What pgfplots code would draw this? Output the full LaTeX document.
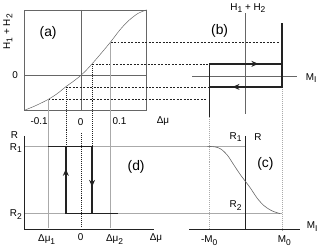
\documentclass[border=0pt]{standalone}
\usepackage{fontspec}
\setmainfont{Liberation Sans}
\usepackage{pgfplots}
\pgfplotsset{compat=1.18}
\usetikzlibrary{arrows.meta}
\newcommand{\sub}[1]{\raisebox{-0.45ex}{\fontsize{8.5}{9}\selectfont #1}}
\definecolor{dk}{HTML}{222222}
\definecolor{md}{HTML}{666666}
\definecolor{lt}{HTML}{AAAAAA}
\begin{document}
\begin{tikzpicture}
\begin{axis}[
  scale only axis, width=321bp, height=248bp,
  xmin=0, xmax=321, ymin=0, ymax=248, y dir=reverse,
  hide axis, clip=false,
  every node/.style={font=\fontsize{11.8}{13}\selectfont, text=dk, inner sep=0pt},
]
\path (axis cs:0,0) rectangle (axis cs:321,248);
% ---------- panel (a)
\addplot[md, line width=0.7pt] coordinates {(22.7,9)(145.7,9)(145.7,110.5)(22.7,110.5)(22.7,9)};
\addplot[md, line width=0.5pt] coordinates {(79.3,9)(79.3,110.5)};
\addplot[md, line width=0.5pt] coordinates {(22.7,75)(145.7,75)};
\addplot[md, line width=0.5pt, smooth] coordinates {(22.7,110)(34,105.3)(46.7,99)(56,93)(64.3,86.3)(72,80.8)(79.3,75)(85,69.5)(90.7,63.3)(100,52.5)(109.3,41.3)(118,30)(126.7,20.5)(136.7,12.7)(145.7,9)};
% dashed horizontals
\addplot[dk, line width=0.5pt, dash pattern=on 2pt off 1.5pt] coordinates {(109.3,41.3)(279,41.3)};
\addplot[dk, line width=0.5pt, dash pattern=on 2pt off 1.5pt] coordinates {(90.7,63.3)(208.7,63.3)};
\addplot[dk, line width=0.5pt, dash pattern=on 2pt off 1.5pt] coordinates {(64.3,86.5)(208.7,86.5)};
\addplot[dk, line width=0.5pt, dash pattern=on 2pt off 1.5pt] coordinates {(46.7,99)(205,99)};
% vertical guides
\addplot[lt, line width=0.6pt] coordinates {(46.7,99)(46.7,228)};
\addplot[lt, line width=0.6pt] coordinates {(109.3,41.3)(109.3,228)};
\addplot[dk, line width=0.5pt, dash pattern=on 1pt off 1pt] coordinates {(64.3,86.5)(64.3,146.3)};
\addplot[dk, line width=0.5pt, dash pattern=on 1pt off 1pt] coordinates {(90.7,63.3)(90.7,146.3)};
\addplot[dk, line width=0.5pt, dash pattern=on 1pt off 1pt] coordinates {(79.3,133)(79.3,227)};
% ---------- panel (b)
\addplot[md, line width=0.6pt] coordinates {(191.7,75.7)(297.3,75.7)};
\addplot[md, line width=0.6pt] coordinates {(245,12.3)(245,113.3)};
\addplot[lt, line width=0.7pt, dash pattern=on 1pt off 1pt] coordinates {(208.7,116.7)(208.7,230)};
\addplot[lt, line width=0.7pt, dash pattern=on 1pt off 1pt] coordinates {(281.7,86.5)(281.7,230)};
\addplot[dk, line width=1.5pt] coordinates {(281.7,22.7)(281.7,86.5)(208.7,86.5)};
\addplot[dk, line width=1.5pt] coordinates {(208.7,116.7)(208.7,63.3)(281.7,63.3)};
\addplot[dk, line width=1.5pt, -{Stealth[length=7pt,width=6pt]}] coordinates {(236,63.3)(258,63.3)};
\addplot[dk, line width=1.5pt, -{Stealth[length=7pt,width=6pt]}] coordinates {(254,86.5)(232,86.5)};
% ---------- panel (c)
\addplot[lt, line width=0.6pt] coordinates {(22.7,146.3)(244.7,146.3)};
\addplot[lt, line width=0.6pt] coordinates {(22.7,214)(281.7,214)};
\addplot[dk, line width=0.7pt] coordinates {(244.7,135.7)(244.7,230)};
\addplot[dk, line width=0.7pt] coordinates {(188.3,230)(300,230)};
\addplot[md, line width=0.6pt, smooth] coordinates {(206.7,146.3)(214,146.8)(220,148.8)(226.7,155)(233.3,165)(240,175)(244.3,180.7)(250,188.3)(256.7,198.3)(263.3,205.7)(270,210.3)(275,212.5)(280,214)};
% ---------- panel (d)
\addplot[dk, line width=0.7pt] coordinates {(22.7,135.7)(22.7,229.5)(153.3,229.5)};
\addplot[dk, line width=1.5pt] coordinates {(46,146.3)(90.7,146.3)(90.7,214)};
\addplot[dk, line width=1.5pt] coordinates {(64.3,146.3)(64.3,214)(116.7,214)};
\addplot[dk, line width=1.5pt, -{Stealth[length=7pt,width=6pt]}] coordinates {(64.3,188)(64.3,169)};
\addplot[dk, line width=1.5pt, -{Stealth[length=7pt,width=6pt]}] coordinates {(90.7,166)(90.7,187)};
% ---------- labels
\node[rotate=90] at (axis cs:6,31) {H\sub{1} + H\sub{2}};
\node[font=\fontsize{14}{16}\selectfont] at (axis cs:46.5,32) {(a)};
\node at (axis cs:13.3,75) {0};
\node at (axis cs:37.5,121) {-0.1};
\node at (axis cs:79.3,121.5) {0};
\node at (axis cs:118.3,121) {0.1};
\node at (axis cs:162,121) {Δμ};
\node at (axis cs:247.5,7) {H\sub{1} + H\sub{2}};
\node[font=\fontsize{14}{16}\selectfont] at (axis cs:219,30.5) {(b)};
\node at (axis cs:311,77.5) {M\sub{I}};
\node at (axis cs:12.5,134.5) {R};
\node at (axis cs:14,148) {R\sub{1}};
\node at (axis cs:14,215) {R\sub{2}};
\node[font=\fontsize{14}{16}\selectfont] at (axis cs:135,167) {(d)};
\node at (axis cs:45,240) {Δμ\sub{1}};
\node at (axis cs:79.3,238) {0};
\node at (axis cs:113.3,240) {Δμ\sub{2}};
\node at (axis cs:155,239) {Δμ};
\node at (axis cs:235,137) {R\sub{1}};
\node at (axis cs:257.5,137) {R};
\node[font=\fontsize{14}{16}\selectfont] at (axis cs:265,164) {(c)};
\node at (axis cs:235,206) {R\sub{2}};
\node at (axis cs:312,227) {M\sub{I}};
\node at (axis cs:208.5,241) {-M\sub{0}};
\node at (axis cs:284,241) {M\sub{0}};
\end{axis}
\end{tikzpicture}
\end{document}
